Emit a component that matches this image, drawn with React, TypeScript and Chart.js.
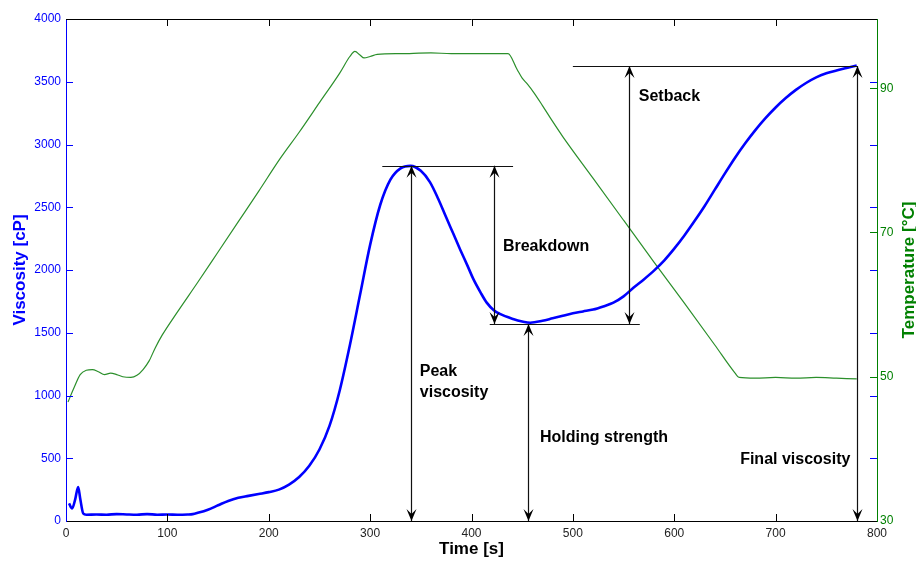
import React, { useEffect, useRef } from 'react';
import { Chart, registerables } from 'chart.js';

Chart.register(...registerables);

// ---------- data ----------
const viscTime = [3, 6, 9, 12, 14, 17, 20, 30, 40, 50, 60, 70, 80, 90, 100, 110, 120, 125, 130, 140, 150, 160, 170, 180, 190, 200, 210, 220, 230, 240, 250, 260, 270, 280, 290, 300, 310, 320, 330, 340, 350, 359, 367, 375, 382, 389, 396, 402, 409, 415, 422, 428, 441, 450, 458, 470, 480, 490, 500, 510, 520, 530, 540, 550, 560, 570, 580, 590, 600, 610, 620, 630, 640, 650, 660, 670, 680, 690, 700, 710, 720, 730, 740, 750, 760, 770, 780];
const viscosity = [140, 100, 170, 270, 180, 60, 50, 52, 50, 55, 52, 50, 55, 50, 52, 50, 52, 55, 65, 90, 125, 160, 185, 200, 215, 230, 250, 290, 350, 440, 570, 760, 1040, 1400, 1800, 2200, 2520, 2720, 2810, 2830, 2790, 2700, 2570, 2420, 2290, 2160, 2035, 1925, 1820, 1740, 1680, 1650, 1610, 1590, 1580, 1595, 1615, 1635, 1655, 1670, 1685, 1710, 1740, 1790, 1860, 1925, 1995, 2075, 2170, 2275, 2390, 2510, 2640, 2770, 2895, 3010, 3115, 3210, 3295, 3370, 3435, 3490, 3535, 3567, 3590, 3610, 3630];

const tempTime = [2, 8, 14, 20, 26, 32, 38, 44, 50, 56, 64, 70, 76, 82, 88, 95, 110, 130, 150, 170, 190, 211, 230, 250, 270, 280, 285, 290, 294, 300, 307, 330, 360, 380, 400, 420, 436, 445, 450, 455, 462, 470, 480, 490, 520, 550, 580, 610, 640, 660, 664, 680, 700, 720, 740, 760, 780];
const temperature = [46.5, 48.5, 50.3, 50.9, 51.0, 50.7, 50.3, 50.5, 50.3, 50.0, 49.9, 50.2, 51.0, 52.2, 54.0, 55.8, 59.0, 63.1, 67.3, 71.5, 75.7, 80.2, 83.9, 88.0, 92.1, 94.4, 95.1, 94.6, 94.2, 94.4, 94.7, 94.8, 94.9, 94.8, 94.8, 94.8, 94.8, 92.6, 91.4, 90.6, 89.3, 87.6, 85.4, 83.3, 77.5, 71.7, 65.9, 60.2, 54.4, 50.5, 49.9, 49.8, 49.9, 49.8, 49.9, 49.8, 49.7];

const timeTicks = [0, 100, 200, 300, 400, 500, 600, 700, 800];
const viscTicks = [0, 500, 1000, 1500, 2000, 2500, 3000, 3500, 4000];
const tempTicks = [30, 50, 70, 90];

// annotation geometry in data units (time s, viscosity cP)
const refLines = [
  { y: 2830, x0: 312, x1: 441 },
  { y: 1570, x0: 418, x1: 566 },
  { y: 3625, x0: 500, x1: 781 },
];
const arrows = [
  { x: 340, y0: 0, y1: 2830 },
  { x: 422, y0: 1570, y1: 2830 },
  { x: 456, y0: 0, y1: 1570 },
  { x: 555, y0: 1570, y1: 3625 },
  { x: 780, y0: 0, y1: 3625 },
];
const notes = [
  { lines: ['Peak', 'viscosity'], x: 349, y: 1187 },
  { lines: ['Breakdown'], x: 431, y: 2183 },
  { lines: ['Holding strength'], x: 467.6, y: 661 },
  { lines: ['Setback'], x: 565, y: 3378 },
  { lines: ['Final viscosity'], x: 665, y: 486 },
];

const FONT = '"Liberation Sans", Arial, Helvetica, sans-serif';
const BLUE = '#0000ff';
const GREEN = '#008000';

function arrowHead(ctx: CanvasRenderingContext2D, x: number, y: number, d: number) {
  // d = 1: pointing down, d = -1: pointing up
  ctx.beginPath();
  ctx.moveTo(x, y);
  ctx.lineTo(x - 5, y - d * 12);
  ctx.lineTo(x, y - d * 7);
  ctx.lineTo(x + 5, y - d * 12);
  ctx.closePath();
  ctx.fill();
}

const decorPlugin = {
  id: 'decor',
  afterDatasetsDraw(chart: any) {
    const { ctx, chartArea: a, scales } = chart;
    const xs = scales.x, yl = scales.y, yr = scales.y2;
    const TL = 7;
    ctx.save();
    ctx.lineWidth = 1;
    // top border
    ctx.strokeStyle = '#000';
    ctx.beginPath();
    ctx.moveTo(a.left, a.top + 0.5);
    ctx.lineTo(a.right, a.top + 0.5);
    ctx.stroke();
    // x ticks (bottom + top, inward)
    ctx.beginPath();
    timeTicks.slice(1, -1).forEach((v) => {
      const px = Math.round(xs.getPixelForValue(v)) + 0.5;
      ctx.moveTo(px, a.bottom);
      ctx.lineTo(px, a.bottom - TL);
      ctx.moveTo(px, a.top);
      ctx.lineTo(px, a.top + TL);
    });
    ctx.stroke();
    // viscosity ticks (left + mirrored right)
    ctx.strokeStyle = BLUE;
    ctx.beginPath();
    viscTicks.slice(1, -1).forEach((v) => {
      const py = Math.round(yl.getPixelForValue(v)) + 0.5;
      ctx.moveTo(a.left, py);
      ctx.lineTo(a.left + TL, py);
      ctx.moveTo(a.right, py);
      ctx.lineTo(a.right - TL, py);
    });
    ctx.stroke();
    // temperature ticks
    ctx.strokeStyle = GREEN;
    ctx.beginPath();
    tempTicks.slice(1).forEach((v) => {
      const py = Math.round(yr.getPixelForValue(v)) + 0.5;
      ctx.moveTo(a.right, py);
      ctx.lineTo(a.right - TL, py);
    });
    ctx.stroke();

    // annotations
    ctx.strokeStyle = '#111';
    ctx.fillStyle = '#000';
    ctx.lineWidth = 1.2;
    ctx.beginPath();
    refLines.forEach((l) => {
      const py = Math.round(yl.getPixelForValue(l.y)) + 0.5;
      ctx.moveTo(xs.getPixelForValue(l.x0), py);
      ctx.lineTo(xs.getPixelForValue(l.x1), py);
    });
    arrows.forEach((r) => {
      const px = Math.round(xs.getPixelForValue(r.x)) + 0.5;
      ctx.moveTo(px, yl.getPixelForValue(r.y0));
      ctx.lineTo(px, yl.getPixelForValue(r.y1));
    });
    ctx.stroke();
    arrows.forEach((r) => {
      const px = Math.round(xs.getPixelForValue(r.x)) + 0.5;
      arrowHead(ctx, px, yl.getPixelForValue(r.y0), 1);
      arrowHead(ctx, px, yl.getPixelForValue(r.y1), -1);
    });
    ctx.font = `bold 16px ${FONT}`;
    ctx.textAlign = 'left';
    ctx.textBaseline = 'middle';
    notes.forEach((n) => {
      const px = xs.getPixelForValue(n.x);
      const py = yl.getPixelForValue(n.y);
      n.lines.forEach((t, i) => ctx.fillText(t, px, py + i * 21));
    });

    // right axis title (reads bottom-to-top)
    ctx.fillStyle = GREEN;
    ctx.font = `bold 17px ${FONT}`;
    ctx.textAlign = 'center';
    ctx.translate(909, (a.top + a.bottom) / 2);
    ctx.rotate(-Math.PI / 2);
    ctx.fillText('Temperature [°C]', 0, 0);
    ctx.restore();
  },
};

const plain = (v: any) => String(v);

export default function App() {
  const ref = useRef<HTMLCanvasElement | null>(null);
  useEffect(() => {
    document.body.style.margin = '0';
    const canvas = ref.current;
    if (!canvas) return;
    const chart = new Chart(canvas, {
      type: 'line',
      data: {
        datasets: [
          {
            label: 'Viscosity',
            data: viscTime.map((t, i) => ({ x: t, y: viscosity[i] })),
            borderColor: BLUE,
            borderWidth: 2.6,
            pointRadius: 0,
            cubicInterpolationMode: 'monotone',
            yAxisID: 'y',
          },
          {
            label: 'Temperature',
            data: tempTime.map((t, i) => ({ x: t, y: temperature[i] })),
            borderColor: '#2b8f2b',
            borderWidth: 1.2,
            pointRadius: 0,
            cubicInterpolationMode: 'monotone',
            yAxisID: 'y2',
          },
        ],
      },
      options: {
        responsive: false,
        animation: false,
        devicePixelRatio: 1,
        layout: { padding: { top: 19, left: 0, right: 0, bottom: 0 } },
        plugins: { legend: { display: false }, tooltip: { enabled: false } },
        events: [],
        scales: {
          x: {
            type: 'linear',
            min: 0,
            max: 800,
            afterBuildTicks: (s: any) => { s.ticks = timeTicks.map((v) => ({ value: v })); },
            afterFit: (s: any) => { s.height = 41; },
            grid: { display: false, drawTicks: false },
            border: { display: true, color: '#000', width: 1 },
            ticks: { color: '#222', font: { family: FONT, size: 12 }, padding: 5, maxRotation: 0, autoSkip: false, callback: plain },
            title: { display: true, text: 'Time [s]', color: '#000', font: { family: FONT, size: 17, weight: 'bold' }, padding: { top: 0, bottom: 2 } },
          },
          y: {
            type: 'linear',
            position: 'left',
            min: 0,
            max: 4000,
            afterBuildTicks: (s: any) => { s.ticks = viscTicks.map((v) => ({ value: v })); },
            afterFit: (s: any) => { s.width = 66; },
            grid: { display: false, drawTicks: false },
            border: { display: true, color: BLUE, width: 1 },
            ticks: { color: BLUE, font: { family: FONT, size: 12 }, padding: 5, autoSkip: false, callback: plain },
            title: { display: true, text: 'Viscosity [cP]', color: BLUE, font: { family: FONT, size: 17, weight: 'bold' }, padding: { top: 10, bottom: 0 } },
          },
          y2: {
            type: 'linear',
            position: 'right',
            min: 30,
            max: 99.6,
            afterBuildTicks: (s: any) => { s.ticks = tempTicks.map((v) => ({ value: v })); },
            afterFit: (s: any) => { s.width = 39; },
            grid: { display: false, drawTicks: false },
            border: { display: true, color: GREEN, width: 1 },
            ticks: { color: GREEN, font: { family: FONT, size: 12 }, padding: 3, autoSkip: false, callback: plain },
            title: { display: false },
          },
        },
      },
      plugins: [decorPlugin],
    } as any);
    return () => chart.destroy();
  }, []);
  return (
    <div style={{ width: 916, height: 562, background: '#fff' }}>
      <canvas ref={ref} width={916} height={562} style={{ display: 'block' }} />
    </div>
  );
}
